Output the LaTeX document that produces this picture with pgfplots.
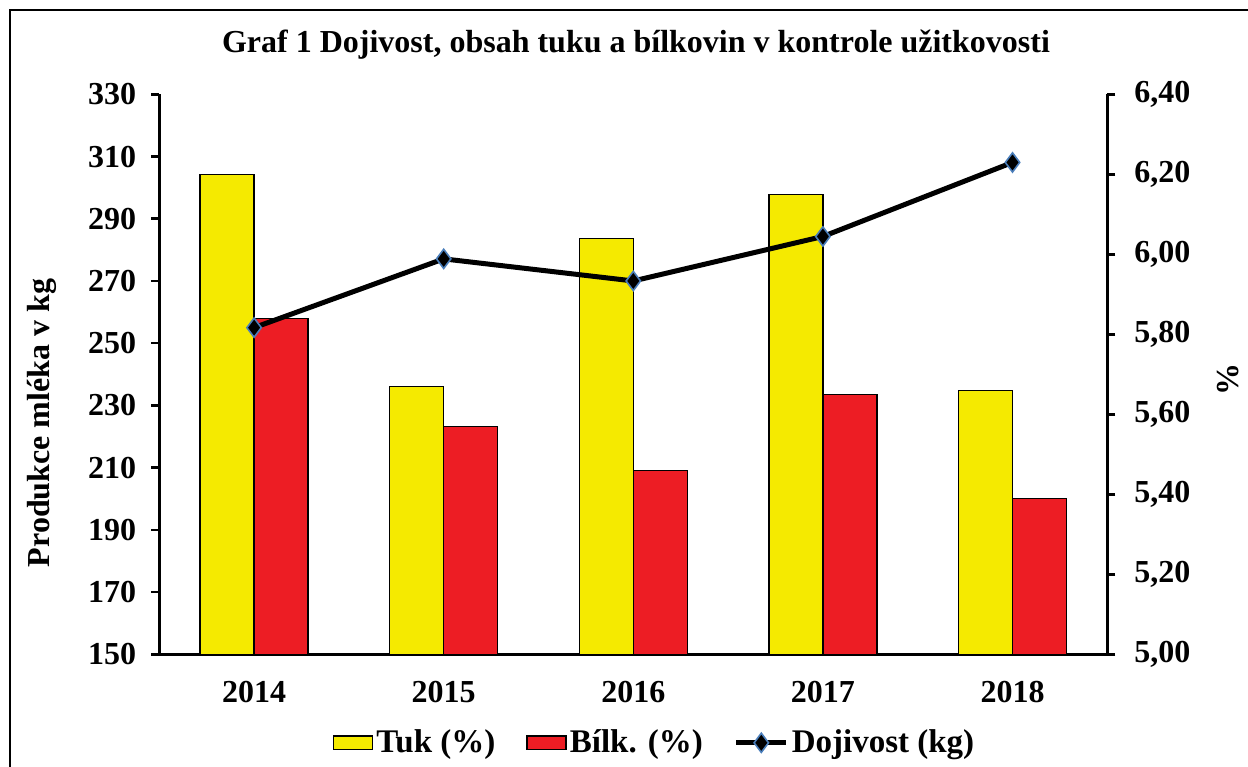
\documentclass[border=0pt]{standalone}
\usepackage{pgfplots}
\pgfplotsset{compat=1.18}
\usepackage{fontspec}
\setmainfont{Liberation Serif}
\definecolor{tukyellow}{RGB}{245,234,0}
\definecolor{bilkred}{RGB}{237,29,36}
\definecolor{markblue}{RGB}{74,126,187}
\pgfplotsset{
  boxlegend/.style={legend image code/.code={\draw[##1] (0pt,-3.4pt) rectangle (19.5pt,3.4pt);}},
  linelegend/.style={legend image code/.code={\draw[##1, mark repeat=2, mark phase=2] plot coordinates {(0pt,0pt) (12.5pt,0pt) (25pt,0pt)};}},
}
\begin{document}
\begin{tikzpicture}
\useasboundingbox (0,0) rectangle (624pt,383pt);
\draw[line width=1pt] (5pt,-20pt) -- (5pt,378pt) -- (650pt,378pt);
% bars on right axis (%)
\begin{axis}[
  at={(79.65pt,55.85pt)}, anchor=south west,
  scale only axis, width=474pt, height=280pt,
  xmin=-0.5, xmax=4.5, ymin=5, ymax=6.4,
  axis x line*=bottom, axis y line*=right,
  axis line style={line width=1.3pt, -},
  xtick={0,1,2,3,4}, xticklabels={2014,2015,2016,2017,2018},
  x tick style={draw=none},
  extra x ticks={-0.5,0.5,1.5,2.5,3.5,4.5}, extra x tick labels={},
  extra x tick style={tick style={draw=black, line width=1.3pt}},
  ytick={5,5.2,5.4,5.6,5.8,6,6.2,6.4},
  y tick style={draw=black, line width=1.3pt},
  tick align=outside, major tick length=4pt,
  /pgf/number format/.cd, fixed, fixed zerofill, precision=2, use comma, assume math mode=true,
  /pgfplots/.cd,
  ticklabel style={font=\fontsize{16}{19}\selectfont\bfseries},
  yticklabel style={xshift=6pt},
  xticklabel style={yshift=-6pt},
  clip=true,
]
\addplot[ybar, bar width=27pt, bar shift=-13.5pt, fill=tukyellow, draw=black, line width=0.75pt]
  coordinates {(0,6.20) (1,5.67) (2,6.04) (3,6.15) (4,5.66)};
\addplot[ybar, bar width=27pt, bar shift=13.5pt, fill=bilkred, draw=black, line width=0.75pt]
  coordinates {(0,5.84) (1,5.57) (2,5.46) (3,5.65) (4,5.39)};
\end{axis}
% line on left axis (kg)
\begin{axis}[
  at={(79.65pt,55.85pt)}, anchor=south west,
  scale only axis, width=474pt, height=280pt,
  xmin=-0.5, xmax=4.5, ymin=150, ymax=330,
  axis x line=none, axis y line*=left,
  axis line style={line width=1.3pt, -},
  ytick={150,170,190,210,230,250,270,290,310,330},
  y tick style={draw=black, line width=1.3pt},
  tick align=outside, major tick length=4pt,
  /pgf/number format/assume math mode=true,
  ticklabel style={font=\fontsize{16}{19}\selectfont\bfseries},
  yticklabel style={xshift=-4pt},
  clip=false,
  legend columns=3,
  legend style={at={(0.523,-0.158)}, anchor=center, draw=none, fill=none,
    font=\fontsize{16.5}{19}\selectfont\bfseries,
    /tikz/every even column/.append style={column sep=14pt},
    nodes={inner sep=1.5pt}},
]
\addlegendimage{fill=tukyellow, draw=black, line width=0.75pt, boxlegend}
\addlegendentry{Tuk (\%)}
\addlegendimage{fill=bilkred, draw=black, line width=0.75pt, boxlegend}
\addlegendentry{Bílk. (\%)}
\addplot[black, line width=2.5pt, mark=diamond*, mark size=4.8pt,
  mark options={fill=black, draw=markblue, line width=0.8pt}, linelegend]
  coordinates {(0,255.0) (1,277.1) (2,270.0) (3,284.3) (4,308.1)};
\addlegendentry{Dojivost (kg)}
\end{axis}
\node[font=\fontsize{16}{19}\selectfont\bfseries] at (318pt,360.5pt) {Graf 1 Dojivost, obsah tuku a bílkovin v kontrole užitkovosti};
\node[font=\fontsize{16}{19}\selectfont\bfseries, rotate=90] at (20.75pt,171.5pt) {Produkce mléka v kg};
\node[font=\fontsize{16}{19}\selectfont\bfseries, rotate=90, inner sep=1pt] at (614pt,193pt) {\%};
\end{tikzpicture}
\end{document}
